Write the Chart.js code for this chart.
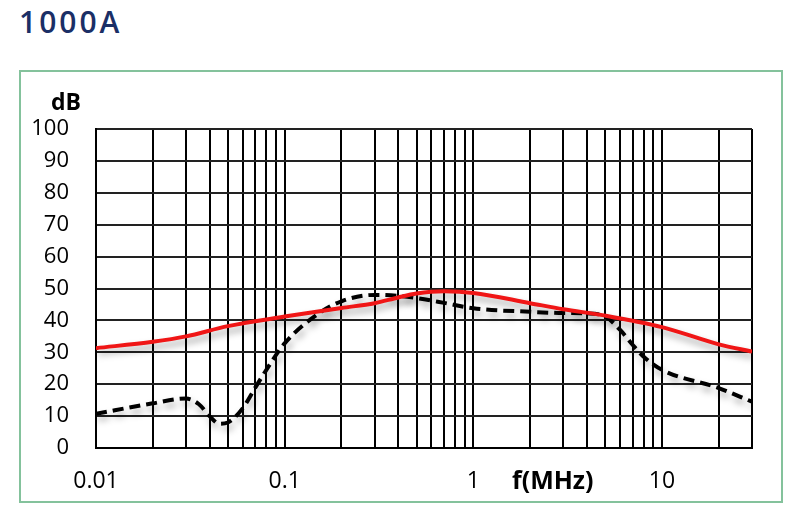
<!DOCTYPE html>
<html>
<head>
<meta charset="utf-8">
<script src="https://cdn.jsdelivr.net/npm/chart.js@4"></script>
<style>
  html, body { margin: 0; padding: 0; background: #fff; }
  #wrap { position: relative; width: 800px; height: 532px; overflow: hidden; }
  #title { position: absolute; left: 19px; top: 1px; font-family: "Open Sans", sans-serif; font-weight: 600;
           font-size: 30px; letter-spacing: 3px; color: #1b2f66; }
  #box { position: absolute; left: 19px; top: 70px; width: 760px; height: 429px; border: 2px solid #84c29c; }
  #db { position: absolute; left: 51px; top: 85px; font-family: "Open Sans", sans-serif; font-weight: 700; font-size: 23px; color: #000; }
  #fmhz { position: absolute; left: 512px; top: 462px; font-family: "Open Sans", sans-serif; font-weight: 700; font-size: 25px; color: #000; }
  canvas { position: absolute; left: 0; top: 0; }
</style>
</head>
<body>
<div id="wrap">
  <div id="title">1000A</div>
  <div id="box"></div>
  <canvas id="chart" width="800" height="532"></canvas>
  <div id="db">dB</div>
  <div id="fmhz">f(MHz)</div>
</div>
<script>
// frequency grid (MHz) and labelled decades
const gridFreqs = [0.01, 0.02, 0.03, 0.04, 0.05, 0.06, 0.07, 0.08, 0.09,
                   0.1, 0.2, 0.3, 0.4, 0.5, 0.6, 0.7, 0.8, 0.9,
                   1, 2, 3, 4, 5, 6, 7, 8, 9, 10, 20, 30];
const tickLabels = ['0.01', '0.1', '1', '10'];

// red solid curve
const redFreq = [0.01, 0.02, 0.03, 0.05, 0.1, 0.2, 0.3, 0.4, 0.5, 0.7, 1, 2, 3, 5, 10, 20, 30];
const redDb   = [31.3, 33.3, 35.0, 38.2, 41.2, 43.9, 45.4, 47.2, 48.4, 49.1, 48.6, 45.4, 43.5, 41.5, 37.9, 32.5, 30.2];

// black dashed curve
const blackFreq = [0.01, 0.02, 0.03, 0.035, 0.04, 0.045, 0.05, 0.06, 0.07, 0.08, 0.1, 0.15, 0.2, 0.3, 0.4, 0.5,
                   0.7, 1, 2, 3, 4, 5, 6, 7, 8, 10, 20, 30];
const blackDb   = [10.7, 14.0, 15.5, 13.8, 10.0, 7.6, 8.0, 12.5, 19.0, 24.5, 32.8, 42.0, 46.0, 48.0, 47.7, 47.0,
                   45.5, 43.8, 42.7, 42.3, 42.2, 41.2, 37.0, 32.3, 28.6, 24.5, 18.8, 14.5];

const toPoints = (xs, ys) => xs.map((x, i) => ({ x: x, y: ys[i] }));

const shadowPlugin = {
    id: 'lineShadow',
    beforeDatasetDraw(chart) {
        const ctx = chart.ctx;
        ctx.save();
        ctx.shadowColor = 'rgba(0,0,0,0.35)';
        ctx.shadowBlur = 7;
        ctx.shadowOffsetX = 2;
        ctx.shadowOffsetY = 5;
    },
    afterDatasetDraw(chart) {
        chart.ctx.restore();
    }
};

const ctx = document.getElementById('chart').getContext('2d');
new Chart(ctx, {
    type: 'line',
    data: {
        datasets: [{
            data: toPoints(redFreq, redDb),
            borderColor: '#f01616',
            borderWidth: 4,
            pointRadius: 0,
            cubicInterpolationMode: 'monotone',
            fill: false
        }, {
            data: toPoints(blackFreq, blackDb),
            borderColor: '#000',
            borderWidth: 4,
            borderDash: [11, 6],
            pointRadius: 0,
            cubicInterpolationMode: 'monotone',
            fill: false
        }]
    },
    options: {
        responsive: false,
        animation: false,
        layout: { padding: { left: 0, top: 129, right: 48, bottom: 0 } },
        plugins: { legend: { display: false }, tooltip: { enabled: false } },
        scales: {
            x: {
                type: 'logarithmic',
                min: 0.01,
                max: 30,
                afterBuildTicks: function(scale) {
                    scale.ticks = gridFreqs.map(v => ({ value: v }));
                },
                afterFit: function(scale) { scale.height = 84; },
                grid: { color: '#000', lineWidth: 2, drawTicks: false },
                border: { color: '#000', width: 2 },
                ticks: {
                    autoSkip: false,
                    maxRotation: 0,
                    padding: 20,
                    color: '#000',
                    font: { family: 'Open Sans', size: 23 },
                    callback: function(value) {
                        const s = String(Number(value.toPrecision(3)));
                        return tickLabels.includes(s) ? s : '';
                    }
                }
            },
            y: {
                min: 0,
                max: 100,
                afterFit: function(scale) { scale.width = 96; },
                grid: { color: '#222', lineWidth: 2, drawTicks: false },
                border: { color: '#000', width: 2 },
                ticks: {
                    stepSize: 10,
                    padding: 27,
                    color: '#000',
                    font: { family: 'Open Sans', size: 22 }
                }
            }
        }
    },
    plugins: [shadowPlugin]
});
</script>
</body>
</html>
